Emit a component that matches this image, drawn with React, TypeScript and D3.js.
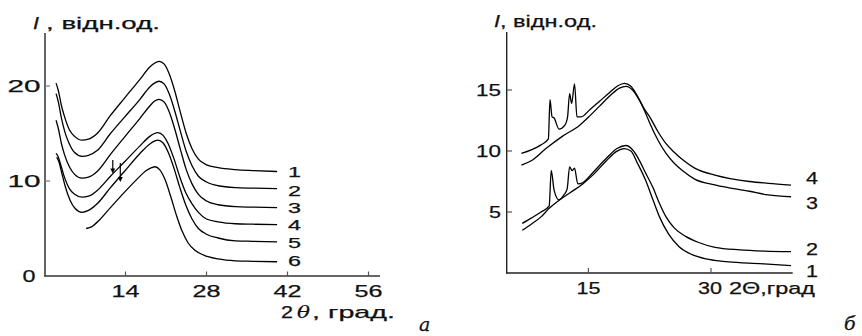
import { useEffect, useRef } from "react";
import * as d3 from "d3";

type Pt = [number, number];

// panel a: 2θ (deg) vs I, curves 1..6 from top to bottom
const leftCurve1: Pt[] = [[2.0,20.3],[2.4,19.5],[2.9,18.0],[3.5,16.7],[4.3,15.4],[5.2,14.7],[6.5,14.3],[7.6,14.4],[9.1,15.0],[11.4,16.9],[13.8,18.7],[16.5,20.7],[18.2,22.0],[19.0,22.4],[19.8,22.6],[20.7,22.3],[21.6,21.2],[22.5,19.5],[23.5,17.2],[24.5,15.0],[25.5,13.4],[26.6,12.3],[28.0,11.7],[30.0,11.4],[33.0,11.2],[36.0,11.1],[40.2,11.0]];
const leftCurve2: Pt[] = [[2.0,19.2],[2.4,18.3],[2.9,16.7],[3.5,15.2],[4.3,13.9],[5.2,13.0],[6.5,12.6],[7.6,12.7],[9.1,13.2],[11.4,15.0],[13.8,16.7],[16.5,18.6],[18.2,19.9],[19.0,20.3],[19.8,20.5],[20.7,20.2],[21.6,19.1],[22.5,17.4],[23.5,15.2],[24.5,13.1],[25.5,11.6],[26.6,10.5],[28.0,9.9],[30.0,9.5],[33.0,9.3],[36.0,9.25],[40.2,9.2]];
const leftCurve3: Pt[] = [[2.0,16.4],[2.4,15.5],[2.9,14.0],[3.5,12.7],[4.3,11.5],[5.2,10.7],[6.5,10.3],[7.6,10.4],[9.1,11.0],[11.4,12.8],[13.8,14.6],[16.5,16.6],[18.2,17.9],[19.0,18.4],[19.8,18.6],[20.7,18.3],[21.6,17.2],[22.5,15.5],[23.5,13.3],[24.5,11.2],[25.5,9.7],[26.6,8.6],[28.0,7.9],[30.0,7.5],[33.0,7.3],[36.0,7.25],[40.2,7.2]];
const leftCurve4: Pt[] = [[2.0,12.9],[2.4,12.5],[2.9,11.5],[3.5,10.3],[4.3,9.2],[5.2,8.6],[6.5,8.3],[7.6,8.4],[9.1,9.0],[11.4,10.5],[13.8,12.0],[16.5,13.7],[18.2,14.7],[19.0,15.0],[19.6,15.1],[20.5,14.8],[21.4,13.9],[22.4,12.3],[23.4,10.4],[24.4,8.8],[25.5,7.6],[26.6,6.7],[28.0,6.0],[30.0,5.7],[33.0,5.5],[36.0,5.45],[40.2,5.4]];
const leftCurve5: Pt[] = [[2.1,12.5],[2.5,12.0],[3.0,10.8],[3.6,9.4],[4.4,8.0],[5.3,7.1],[6.5,6.7],[7.6,6.9],[9.1,7.6],[11.4,9.3],[13.8,11.0],[16.5,12.9],[18.2,13.9],[19.0,14.2],[19.6,14.3],[20.5,14.0],[21.4,13.0],[22.4,11.3],[23.4,9.3],[24.4,7.5],[25.5,6.0],[26.6,5.0],[28.0,4.4],[30.0,4.0],[33.0,3.7],[36.0,3.65],[40.2,3.6]];
const leftCurve6: Pt[] = [[7.2,5.0],[8.2,5.2],[9.5,5.9],[11.4,7.2],[13.8,8.8],[16.0,10.2],[17.6,11.1],[18.5,11.4],[19.1,11.5],[19.9,11.2],[20.8,10.2],[21.8,8.4],[22.8,6.4],[23.8,4.7],[24.8,3.5],[26.0,2.7],[27.5,2.2],[30.0,1.8],[33.0,1.6],[36.0,1.55],[40.2,1.5]];
const leftCurves = [leftCurve1, leftCurve2, leftCurve3, leftCurve4, leftCurve5, leftCurve6];
const leftLabels = ["1", "2", "3", "4", "5", "6"];
const leftLabelY = [11.0, 9.0, 7.2, 5.4, 3.5, 1.6];
const leftXTicks = [14, 28, 42, 56];
const leftYTicks = [0, 10, 20];
// arrows: x, y from, y to
const leftArrows = [[11.8, 12.2, 10.8], [13.1, 11.9, 9.9]];

// panel б
const rightCurve1: Pt[] = [[6.9,3.5],[8.0,4.0],[9.2,4.6],[10.2,5.3],[11.5,6.0],[12.8,6.6],[14.3,7.3],[15.5,8.0],[17.2,9.2],[18.4,9.95],[19.4,10.2],[20.2,10.0],[21.0,9.0],[22.0,7.6],[22.9,6.0],[23.7,4.6],[24.8,3.2],[26.1,2.15],[27.7,1.5],[29.4,1.15],[31.5,0.95],[33.5,0.85],[36.5,0.75],[39.8,0.6]];
const rightCurve2: Pt[] = [[6.9,4.07],[8.0,4.5],[9.2,5.0],[10.2,5.5],[10.45,8.4],[10.8,6.8],[11.4,6.0],[12.0,6.4],[12.4,6.9],[12.7,8.7],[13.0,8.4],[13.3,8.6],[13.7,7.3],[14.3,7.4],[15.5,8.2],[17.2,9.4],[18.5,10.2],[19.6,10.45],[20.4,10.1],[21.1,9.4],[22.0,8.2],[22.9,7.0],[23.7,5.7],[24.5,4.6],[25.5,3.7],[26.9,3.0],[28.5,2.5],[30.5,2.1],[33.5,1.9],[36.5,1.8],[39.8,1.75]];
const rightCurve3: Pt[] = [[6.8,8.85],[8.0,9.2],[9.8,10.2],[11.8,11.2],[13.9,12.1],[15.2,12.9],[16.4,13.7],[17.6,14.5],[18.8,15.15],[19.6,15.3],[20.4,15.0],[21.2,14.2],[22.0,13.1],[22.5,12.3],[23.5,10.9],[24.5,9.8],[25.5,9.0],[26.5,8.4],[28.0,7.7],[30.6,7.2],[34.7,6.7],[37.0,6.4],[39.8,6.25]];
const rightCurve4: Pt[] = [[6.8,9.8],[8.0,10.1],[9.2,10.5],[10.1,11.0],[10.3,14.2],[10.55,12.8],[10.8,12.7],[11.4,11.8],[12.1,12.1],[12.45,12.8],[12.7,14.7],[12.95,13.9],[13.3,15.5],[13.6,12.8],[14.1,12.8],[15.2,13.4],[16.4,14.1],[17.6,14.8],[18.6,15.35],[19.4,15.55],[20.2,15.3],[21.0,14.5],[21.8,13.5],[22.5,12.8],[23.5,11.6],[24.5,10.6],[25.5,9.9],[26.5,9.3],[28.0,8.6],[30.6,8.0],[34.7,7.5],[37.0,7.35],[39.8,7.2]];
const rightCurves = [rightCurve1, rightCurve2, rightCurve3, rightCurve4];
const rightLabels = ["1", "2", "3", "4"];
const rightLabelY = [0.2, 2.0, 5.7, 7.8];
const rightXTicks = [15, 30];
const rightYTicks = [5, 10, 15];

const FONT = "'Liberation Sans', Arial, sans-serif";

export default function App() {
  const svgRef = useRef<SVGSVGElement>(null);
  const width = 862;
  const height = 336;

  useEffect(() => {
    const svg = d3.select(svgRef.current);
    svg.selectAll("*").remove();

    const txt = (x: number, y: number, s: string, w: number, anchor = "start", style = "normal", family = FONT, size = 17) => {
      const t = svg
        .append("text")
        .attr("x", x)
        .attr("y", y)
        .attr("text-anchor", anchor)
        .attr("font-family", family)
        .attr("font-size", size)
        .attr("font-style", style)
        .attr("fill", "#111")
        .attr("stroke", "#111")
        .attr("stroke-width", 0.25)
        .text(s);
      if (w > 0) t.attr("textLength", w).attr("lengthAdjust", "spacingAndGlyphs");
      return t;
    };

    // ---------- panel a ----------
    const xA = d3.scaleLinear().domain([0, 56]).range([44.5, 368.5]);
    const yA = d3.scaleLinear().domain([0, 20]).range([276, 86]);
    const gA = svg.append("g");

    gA.append("line").attr("x1", 45).attr("x2", 45).attr("y1", 33).attr("y2", 276.5)
      .attr("stroke", "#333").attr("stroke-width", 1.5);
    gA.append("line").attr("x1", 44.3).attr("x2", 380).attr("y1", 276).attr("y2", 276)
      .attr("stroke", "#333").attr("stroke-width", 1.5);
    gA.selectAll(".yt").data(leftYTicks.filter((d) => d > 0)).join("line")
      .attr("x1", 45).attr("x2", 50).attr("y1", (d) => yA(d)).attr("y2", (d) => yA(d))
      .attr("stroke", "#777").attr("stroke-width", 1.2);
    gA.selectAll(".xt").data(leftXTicks).join("line")
      .attr("x1", (d) => xA(d)).attr("x2", (d) => xA(d)).attr("y1", 276).attr("y2", 271.5)
      .attr("stroke", "#555").attr("stroke-width", 1.2);

    const lineA = d3.line<Pt>().x((d) => xA(d[0])).y((d) => yA(d[1])).curve(d3.curveMonotoneX);
    gA.selectAll(".c").data(leftCurves).join("path")
      .attr("d", (d) => lineA(d)).attr("fill", "none").attr("stroke", "#000").attr("stroke-width", 1.3);

    leftArrows.forEach(([x, y0, y1]) => {
      const px = xA(x);
      gA.append("line").attr("x1", px).attr("x2", px).attr("y1", yA(y0)).attr("y2", yA(y1) - 4)
        .attr("stroke", "#000").attr("stroke-width", 1.2);
      gA.append("path")
        .attr("d", `M${px - 2.5},${yA(y1) - 5}L${px + 2.5},${yA(y1) - 5}L${px},${yA(y1)}Z`)
        .attr("fill", "#000");
    });

    leftYTicks.forEach((d) => {
      const s = String(d);
      txt(d === 0 ? 35.5 : 40.5, yA(d) + 6, s, d === 0 ? 13 : 33, "end");
    });
    leftXTicks.forEach((d) => txt(xA(d), 297, String(d), 28, "middle"));
    // curve numbers sit tightly stacked, slightly smaller font
    leftLabels.forEach((s, i) => txt(288, yA(leftLabelY[i]) + 5.5, s, 13, "start", "normal", FONT, 15));

    txt(281, 317.5, "2", 12);
    txt(297, 317.5, "θ", 13, "start", "italic", "'DejaVu Serif', serif");
    txt(312, 317.5, ", град.", 83);
    txt(33, 29, "I", 6, "start", "italic");
    txt(46, 29, ", відн.од.", 114);

    // ---------- panel б ----------
    const xB = d3.scaleLinear().domain([5, 40]).range([506.7, 792.7]);
    const yB = d3.scaleLinear().domain([0, 15]).range([273, 90]);
    const gB = svg.append("g");

    gB.append("line").attr("x1", 506.7).attr("x2", 506.7).attr("y1", 32).attr("y2", 273.5)
      .attr("stroke", "#222").attr("stroke-width", 1.4);
    gB.append("line").attr("x1", 506).attr("x2", 792.7).attr("y1", 273).attr("y2", 273)
      .attr("stroke", "#222").attr("stroke-width", 1.4);
    gB.selectAll(".yt").data(rightYTicks).join("line")
      .attr("x1", 506.7).attr("x2", 512).attr("y1", (d) => yB(d)).attr("y2", (d) => yB(d))
      .attr("stroke", "#555").attr("stroke-width", 1.2);
    gB.selectAll(".xt").data(rightXTicks).join("line")
      .attr("x1", (d) => xB(d)).attr("x2", (d) => xB(d)).attr("y1", 273).attr("y2", 268)
      .attr("stroke", "#555").attr("stroke-width", 1.2);

    const lineB = d3.line<Pt>().x((d) => xB(d[0])).y((d) => yB(d[1])).curve(d3.curveMonotoneX);
    gB.selectAll(".c").data(rightCurves).join("path")
      .attr("d", (d) => lineB(d)).attr("fill", "none").attr("stroke", "#000").attr("stroke-width", 1.3);

    rightYTicks.forEach((d) => txt(501, yB(d) + 6, String(d), d < 10 ? 12 : 25, "end"));
    rightXTicks.forEach((d) => txt(xB(d) - (d === 30 ? 1 : 0), 294, String(d), 24, "middle"));
    rightLabels.forEach((s, i) => txt(806, yB(rightLabelY[i]) + 6, s, 12));

    txt(729, 294, "2Θ,град", 86);
    txt(494, 27, "I", 6, "start", "italic");
    txt(500, 27, ", відн.од.", 97);

    // panel letters
    txt(419, 331, "a", 0, "start", "italic", "'DejaVu Serif', serif", 19);
    txt(844, 330, "б", 0, "start", "italic", "'DejaVu Serif', serif", 19);
  }, []);

  return (
    <svg
      ref={svgRef}
      width={width}
      height={height}
      style={{ position: "absolute", left: 0, top: 0, background: "#fff" }}
    />
  );
}
